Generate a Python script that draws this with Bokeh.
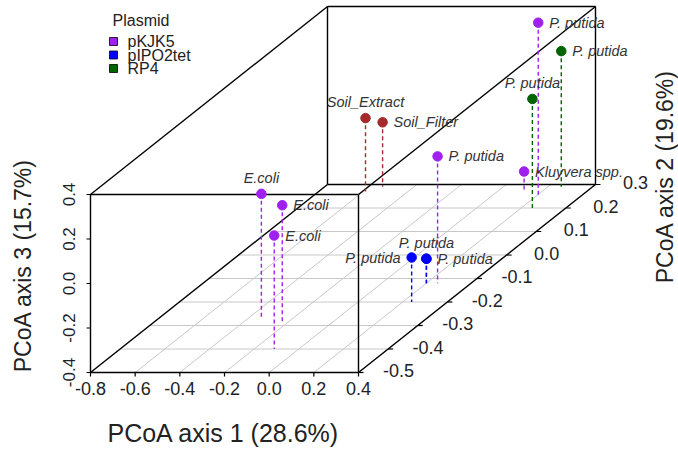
import math
from bokeh.plotting import figure
from bokeh.models import Range1d
from bokeh.embed import file_html
from bokeh.resources import INLINE
from bokeh.core.properties import value

# ---------------- data ----------------
sample = ["E.coli", "E.coli", "E.coli", "Soil_Extract", "Soil_Filter",
          "P. putida", "Kluyvera spp.", "P. putida", "P. putida", "P. putida",
          "P. putida", "P. putida", "P. putida"]
plasmid = ["pKJK5", "pKJK5", "pKJK5", "Soil", "Soil",
           "pKJK5", "pKJK5", "pKJK5", "RP4", "RP4",
           "pIPO2tet", "pIPO2tet", "pIPO2tet"]
pcoa1 = [-0.34, -0.22, -0.11, -0.59, -0.54, 0.25, 0.12, 0.21, 0.26, 0.25, 0.24, 0.20, 0.20]
pcoa2 = [-0.27, -0.29, -0.40, 0.27, 0.29, -0.12, 0.27, 0.25, 0.29, 0.20, -0.20, -0.12, -0.12]
pcoa3 = [0.16, 0.13, 0.11, -0.07, -0.11, 0.17, -0.31, 0.38, 0.21, 0.09, -0.20, -0.29, -0.29]
label_side = ["above", "right", "right", "above", "right", "right", "right",
              "right", "right", "above", "left", "right", "above"]

legend_title = "Plasmid"
legend_names = ["pKJK5", "pIPO2tet", "RP4"]

x_ticks = [-0.8, -0.6, -0.4, -0.2, 0.0, 0.2, 0.4]
y_ticks = [-0.5, -0.4, -0.3, -0.2, -0.1, 0.0, 0.1, 0.2, 0.3]
z_ticks = [-0.4, -0.2, 0.0, 0.2, 0.4]

x_title = "PCoA axis 1 (28.6%)"
y_title = "PCoA axis 2 (19.6%)"
z_title = "PCoA axis 3 (15.7%)"

colors = {"pKJK5": "#A020F0", "pIPO2tet": "#0000FF", "RP4": "#006400", "Soil": "#A52A2A"}

# ---------------- projection (page pixels -> figure coords) ----------------
W, H = 678, 453
XMIN, XMAX = x_ticks[0], x_ticks[-1]
YMIN, YMAX = y_ticks[0], y_ticks[-1]
ZMIN, ZMAX = z_ticks[0], z_ticks[-1]
OX, OY = 90.0, 372.0          # page position of front-bottom-left corner
LX, LZ = 268.0, 178.0         # front face width / height in px
DX, DY = 237.0, 188.0         # depth offset in px


def fx(px):
    return px


def fy(py):
    return H - py


def proj(x, y, z):
    u = (x - XMIN) / (XMAX - XMIN)
    v = (y - YMIN) / (YMAX - YMIN)
    w = (z - ZMIN) / (ZMAX - ZMIN)
    px = OX + u * LX + v * DX
    py = OY - w * LZ - v * DY
    return fx(px), fy(py)


p = figure(width=W, height=H, output_backend="svg", toolbar_location=None,
           x_range=Range1d(0, W), y_range=Range1d(0, H), min_border=0)
p.axis.visible = False
p.grid.visible = False
p.outline_line_color = None
p.background_fill_color = "white"
p.border_fill_color = "white"

FONT = value("Liberation Sans")

# ---------------- floor grid ----------------
gx, gy = [], []
for yt in y_ticks:
    a = proj(XMIN, yt, ZMIN); b = proj(XMAX, yt, ZMIN)
    gx.append([a[0], b[0]]); gy.append([a[1], b[1]])
for xt in x_ticks:
    a = proj(xt, YMIN, ZMIN); b = proj(xt, YMAX, ZMIN)
    gx.append([a[0], b[0]]); gy.append([a[1], b[1]])
p.multi_line(gx, gy, line_color="#c8c8c8", line_width=1)

# ---------------- box ----------------
corners = {}
for i, xx in enumerate((XMIN, XMAX)):
    for j, yy in enumerate((YMIN, YMAX)):
        for k, zz in enumerate((ZMIN, ZMAX)):
            corners[(i, j, k)] = proj(xx, yy, zz)
bx, by = [], []
for key, c in corners.items():
    for d in range(3):
        if key[d] == 0:
            k2 = list(key); k2[d] = 1
            c2 = corners[tuple(k2)]
            bx.append([c[0], c2[0]]); by.append([c[1], c2[1]])
p.multi_line(bx, by, line_color="black", line_width=1.4)

# ---------------- ticks ----------------
tx, ty = [], []
for xt in x_ticks:
    a = proj(xt, YMIN, ZMIN)
    tx.append([a[0], a[0]]); ty.append([a[1], a[1] - 4])
for zt in z_ticks:
    a = proj(XMIN, YMIN, zt)
    tx.append([a[0], a[0] - 4]); ty.append([a[1], a[1]])
for yt in y_ticks:
    a = proj(XMAX, yt, ZMIN)
    tx.append([a[0], a[0] + 5]); ty.append([a[1], a[1]])
p.multi_line(tx, ty, line_color="black", line_width=1.2)

# tick labels
xl = [proj(v, YMIN, ZMIN) for v in x_ticks]
p.text([c[0] for c in xl], [c[1] - 16 for c in xl], text=["%.1f" % v for v in x_ticks],
       text_font=FONT, text_font_size="18px", text_align="center",
       text_baseline="middle", text_color="#222222")
zl = [proj(XMIN, YMIN, v) for v in z_ticks]
p.text([c[0] - 22 for c in zl], [c[1] for c in zl], text=["%.1f" % v for v in z_ticks],
       angle=math.pi / 2, text_font=FONT, text_font_size="17px", text_align="center",
       text_baseline="middle", text_color="#222222")
yl = [proj(XMAX, v, ZMIN) for v in y_ticks]
p.text([c[0] + 40 for c in yl], [c[1] + 2 for c in yl], text=["%.1f" % v for v in y_ticks],
       text_font=FONT, text_font_size="18px", text_align="center",
       text_baseline="middle", text_color="#222222")

# axis titles
p.text([fx(223)], [fy(432)], text=[x_title], text_font=FONT, text_font_size="25px",
       text_align="center", text_baseline="middle", text_color="#222222")
p.text([fx(22)], [fy(265)], text=[z_title], angle=math.pi / 2, text_font=FONT,
       text_font_size="23px", text_align="center", text_baseline="middle", text_color="#222222")
p.text([fx(664)], [fy(176)], text=[y_title], angle=math.pi / 2, text_font=FONT,
       text_font_size="23px", text_align="center", text_baseline="middle", text_color="#222222")

# ---------------- points with drop lines ----------------
px_, py_, fx_, fy_, col = [], [], [], [], []
for a, b, c, pl in zip(pcoa1, pcoa2, pcoa3, plasmid):
    top = proj(a, b, c); bot = proj(a, b, ZMIN)
    px_.append(top[0]); py_.append(top[1]); fx_.append(bot[0]); fy_.append(bot[1])
    col.append(colors[pl])
p.segment(px_, py_, fx_, fy_, line_color=col, line_width=1.4, line_dash="4 3")
p.scatter(px_, py_, size=9.5, fill_color=col, line_color=col)

for side in ("above", "right", "left"):
    idx = [i for i, s in enumerate(label_side) if s == side]
    if not idx:
        continue
    if side == "above":
        xs = [px_[i] for i in idx]; ys = [py_[i] + 16 for i in idx]; al = "center"
    elif side == "right":
        xs = [px_[i] + 11 for i in idx]; ys = [py_[i] for i in idx]; al = "left"
    else:
        xs = [px_[i] - 11 for i in idx]; ys = [py_[i] for i in idx]; al = "right"
    p.text(xs, ys, text=[sample[i] for i in idx], text_font=FONT, text_font_size="14.5px",
           text_font_style="italic", text_align=al, text_baseline="middle", text_color="#333333")

# ---------------- legend ----------------
p.text([fx(112)], [fy(20)], text=[legend_title], text_font=FONT, text_font_size="16px",
       text_align="left", text_baseline="middle", text_color="#222222")
leg_y = [fy(41), fy(54.5), fy(68)]
p.scatter([fx(113)] * 3, leg_y, marker="square", size=8,
          fill_color=[colors[n] for n in legend_names], line_color="black", line_width=0.8)
p.text([fx(127)] * 3, leg_y, text=legend_names, text_font=FONT, text_font_size="16px",
       text_align="left", text_baseline="middle", text_color="#222222")

open("out.html", "w").write(file_html(p, INLINE))
